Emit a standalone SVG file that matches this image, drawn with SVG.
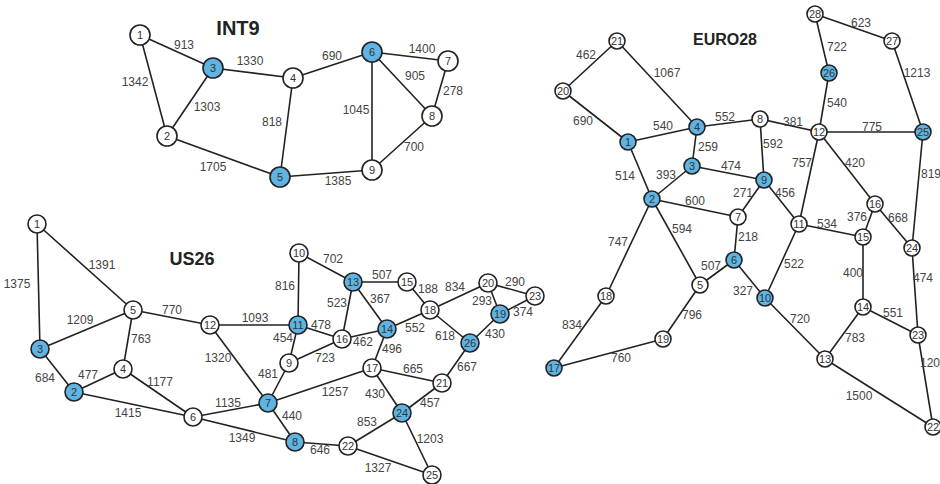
<svg xmlns="http://www.w3.org/2000/svg" width="940" height="484" viewBox="0 0 940 484">
<style>
.e{stroke:#222;stroke-width:1.6;fill:none}
.n circle{stroke:#222;stroke-width:1.6;fill:#fff}
.b circle{fill:#5fb4e3}
.n text{font-family:"Liberation Sans",Arial,sans-serif;font-size:11px;fill:#333;text-anchor:middle;dominant-baseline:central}
.l{font-family:"Liberation Sans",Arial,sans-serif;font-size:12px;fill:#444;text-anchor:middle;dominant-baseline:central}
.t{font-family:"Liberation Sans",Arial,sans-serif;font-weight:bold;fill:#222;text-anchor:middle;dominant-baseline:central}
</style>
<rect width="940" height="484" fill="#fff"/>
<text class="t" x="238" y="28" font-size="20">INT9</text>
<text class="t" x="192" y="259" font-size="18">US26</text>
<text class="t" x="725" y="39" font-size="16">EURO28</text>

<g id="connectors">
<path class="e" d="M140,35L213,68M140,35L167,136M167,136L213,68M213,68L293,78M293,78L280,177M167,136L280,177M293,78L372,52M372,52L448,61M372,52L432,116M448,61L432,116M372,52L372,170M432,116L372,170M280,177L372,170"/>
<path class="e" d="M37,224L40,349M37,224L133,310M40,349L133,310M40,349L74,392M74,392L123,369M123,369L133,310M123,369L193,417M74,392L193,417M133,310L210,325M210,325L268,403M193,417L268,403M193,417L295,442M268,403L295,442M268,403L289,363M289,363L298,325M289,363L342,339M299,253L298,325M299,253L353,282M298,325L342,339M353,282L342,339M353,282L407,282M353,282L387,329M342,339L387,329M387,329L430,310M387,329L372,368M407,282L430,310M430,310L488,283M430,310L470,343M488,283L535,296M488,283L500,314M500,314L535,296M500,314L470,343M470,343L442,383M372,368L442,383M372,368L268,403M372,368L402,413M442,383L402,413M402,413L348,446M402,413L432,475M295,442L348,446M348,446L432,475"/>
<path class="e" d="M210,325L298,325" stroke-width="3"/>
<path class="e" d="M617,41L563,91M617,41L697,127M563,91L628,142M628,142L697,127M628,142L652,199M697,127L760,119M697,127L692,166M692,166L652,199M692,166L764,180M652,199L738,217M652,199L700,285M652,199L606,296M606,296L554,368M554,368L663,339M663,339L700,285M700,285L734,260M734,260L738,217M738,217L764,180M734,260L765,298M764,180L760,119M764,180L799,224M760,119L819,132M819,132L829,73M829,73L815,14M815,14L892,41M892,41L923,132M819,132L923,132M819,132L799,224M819,132L875,204M799,224L863,237M799,224L765,298M875,204L863,237M875,204L912,248M923,132L912,248M863,237L863,307M912,248L918,335M863,307L918,335M765,298L825,359M825,359L863,307M825,359L933,427M918,335L933,427"/>
</g>

<g id="edge-labels">
<text class="l" x="184" y="45">913</text>
<text class="l" x="250" y="61">1330</text>
<text class="l" x="135" y="82">1342</text>
<text class="l" x="207" y="107">1303</text>
<text class="l" x="272" y="122">818</text>
<text class="l" x="213" y="167">1705</text>
<text class="l" x="332" y="56">690</text>
<text class="l" x="422" y="49">1400</text>
<text class="l" x="415" y="76">905</text>
<text class="l" x="453" y="91">278</text>
<text class="l" x="356" y="110">1045</text>
<text class="l" x="414" y="147">700</text>
<text class="l" x="338" y="181">1385</text>

<text class="l" x="102" y="265">1391</text>
<text class="l" x="17" y="284">1375</text>
<text class="l" x="80" y="320">1209</text>
<text class="l" x="141" y="339">763</text>
<text class="l" x="45" y="378">684</text>
<text class="l" x="88" y="375">477</text>
<text class="l" x="160" y="382">1177</text>
<text class="l" x="128" y="413">1415</text>
<text class="l" x="172" y="310">770</text>
<text class="l" x="255" y="318">1093</text>
<text class="l" x="218" y="358">1320</text>
<text class="l" x="228" y="403">1135</text>
<text class="l" x="242" y="438">1349</text>
<text class="l" x="292" y="416">440</text>
<text class="l" x="268" y="374">481</text>
<text class="l" x="283" y="338">454</text>
<text class="l" x="285" y="286">816</text>
<text class="l" x="333" y="259">702</text>
<text class="l" x="382" y="275">507</text>
<text class="l" x="428" y="289">188</text>
<text class="l" x="455" y="287">834</text>
<text class="l" x="515" y="282">290</text>
<text class="l" x="482" y="301">293</text>
<text class="l" x="523" y="312">374</text>
<text class="l" x="337" y="303">523</text>
<text class="l" x="380" y="299">367</text>
<text class="l" x="321" y="325">478</text>
<text class="l" x="415" y="328">552</text>
<text class="l" x="445" y="336">618</text>
<text class="l" x="495" y="334">430</text>
<text class="l" x="363" y="342">462</text>
<text class="l" x="392" y="349">496</text>
<text class="l" x="325" y="358">723</text>
<text class="l" x="413" y="369">665</text>
<text class="l" x="467" y="367">667</text>
<text class="l" x="335" y="392">1257</text>
<text class="l" x="375" y="394">430</text>
<text class="l" x="430" y="403">457</text>
<text class="l" x="367" y="422">853</text>
<text class="l" x="430" y="439">1203</text>
<text class="l" x="320" y="450">646</text>
<text class="l" x="378" y="468">1327</text>

<text class="l" x="586" y="55">462</text>
<text class="l" x="667" y="73">1067</text>
<text class="l" x="583" y="121">690</text>
<text class="l" x="663" y="126">540</text>
<text class="l" x="725" y="117">552</text>
<text class="l" x="708" y="147">259</text>
<text class="l" x="625" y="176">514</text>
<text class="l" x="666" y="175">393</text>
<text class="l" x="731" y="166">474</text>
<text class="l" x="695" y="201">600</text>
<text class="l" x="861" y="23">623</text>
<text class="l" x="837" y="47">722</text>
<text class="l" x="917" y="73">1213</text>
<text class="l" x="837" y="103">540</text>
<text class="l" x="793" y="122">381</text>
<text class="l" x="872" y="127">775</text>
<text class="l" x="773" y="144">592</text>
<text class="l" x="802" y="163">757</text>
<text class="l" x="855" y="163">420</text>
<text class="l" x="931" y="174">819</text>
<text class="l" x="785" y="193">456</text>
<text class="l" x="743" y="193">271</text>
<text class="l" x="857" y="217">376</text>
<text class="l" x="898" y="218">668</text>
<text class="l" x="827" y="224">534</text>
<text class="l" x="748" y="237">218</text>
<text class="l" x="618" y="242">747</text>
<text class="l" x="682" y="229">594</text>
<text class="l" x="794" y="264">522</text>
<text class="l" x="711" y="266">507</text>
<text class="l" x="853" y="273">400</text>
<text class="l" x="923" y="278">474</text>
<text class="l" x="743" y="291">327</text>
<text class="l" x="893" y="313">551</text>
<text class="l" x="692" y="315">796</text>
<text class="l" x="800" y="319">720</text>
<text class="l" x="572" y="325">834</text>
<text class="l" x="855" y="338">783</text>
<text class="l" x="621" y="358">760</text>
<text class="l" x="930" y="363">120</text>
<text class="l" x="859" y="396">1500</text>
</g>

<g id="int9-1" class="n"><circle cx="140" cy="35" r="10"/><text x="140" y="35">1</text></g>
<g id="int9-2" class="n"><circle cx="167" cy="136" r="10"/><text x="167" y="136">2</text></g>
<g id="int9-3" class="n b"><circle cx="213" cy="68" r="10"/><text x="213" y="68">3</text></g>
<g id="int9-4" class="n"><circle cx="293" cy="78" r="10"/><text x="293" y="78">4</text></g>
<g id="int9-5" class="n b"><circle cx="280" cy="177" r="10"/><text x="280" y="177">5</text></g>
<g id="int9-6" class="n b"><circle cx="372" cy="52" r="10"/><text x="372" y="52">6</text></g>
<g id="int9-7" class="n"><circle cx="448" cy="61" r="10"/><text x="448" y="61">7</text></g>
<g id="int9-8" class="n"><circle cx="432" cy="116" r="10"/><text x="432" y="116">8</text></g>
<g id="int9-9" class="n"><circle cx="372" cy="170" r="10"/><text x="372" y="170">9</text></g>

<g id="us26-1" class="n"><circle cx="37" cy="224" r="9"/><text x="37" y="224">1</text></g>
<g id="us26-2" class="n b"><circle cx="74" cy="392" r="9"/><text x="74" y="392">2</text></g>
<g id="us26-3" class="n b"><circle cx="40" cy="349" r="9"/><text x="40" y="349">3</text></g>
<g id="us26-4" class="n"><circle cx="123" cy="369" r="9"/><text x="123" y="369">4</text></g>
<g id="us26-5" class="n"><circle cx="133" cy="310" r="9"/><text x="133" y="310">5</text></g>
<g id="us26-6" class="n"><circle cx="193" cy="417" r="9"/><text x="193" y="417">6</text></g>
<g id="us26-7" class="n b"><circle cx="268" cy="403" r="9"/><text x="268" y="403">7</text></g>
<g id="us26-8" class="n b"><circle cx="295" cy="442" r="9"/><text x="295" y="442">8</text></g>
<g id="us26-9" class="n"><circle cx="289" cy="363" r="9"/><text x="289" y="363">9</text></g>
<g id="us26-10" class="n"><circle cx="299" cy="253" r="9"/><text x="299" y="253">10</text></g>
<g id="us26-11" class="n b"><circle cx="298" cy="325" r="9"/><text x="298" y="325">11</text></g>
<g id="us26-12" class="n"><circle cx="210" cy="325" r="9"/><text x="210" y="325">12</text></g>
<g id="us26-13" class="n b"><circle cx="353" cy="282" r="9"/><text x="353" y="282">13</text></g>
<g id="us26-14" class="n b"><circle cx="387" cy="329" r="9"/><text x="387" y="329">14</text></g>
<g id="us26-15" class="n"><circle cx="407" cy="282" r="9"/><text x="407" y="282">15</text></g>
<g id="us26-16" class="n"><circle cx="342" cy="339" r="9"/><text x="342" y="339">16</text></g>
<g id="us26-17" class="n"><circle cx="372" cy="368" r="9"/><text x="372" y="368">17</text></g>
<g id="us26-18" class="n"><circle cx="430" cy="310" r="9"/><text x="430" y="310">18</text></g>
<g id="us26-19" class="n b"><circle cx="500" cy="314" r="9"/><text x="500" y="314">19</text></g>
<g id="us26-20" class="n"><circle cx="488" cy="283" r="9"/><text x="488" y="283">20</text></g>
<g id="us26-21" class="n"><circle cx="442" cy="383" r="9"/><text x="442" y="383">21</text></g>
<g id="us26-22" class="n"><circle cx="348" cy="446" r="9"/><text x="348" y="446">22</text></g>
<g id="us26-23" class="n"><circle cx="535" cy="296" r="9"/><text x="535" y="296">23</text></g>
<g id="us26-24" class="n b"><circle cx="402" cy="413" r="9"/><text x="402" y="413">24</text></g>
<g id="us26-25" class="n"><circle cx="432" cy="475" r="9"/><text x="432" y="475">25</text></g>
<g id="us26-26" class="n b"><circle cx="470" cy="343" r="9"/><text x="470" y="343">26</text></g>

<g id="euro-1" class="n b"><circle cx="628" cy="142" r="8"/><text x="628" y="142">1</text></g>
<g id="euro-2" class="n b"><circle cx="652" cy="199" r="8"/><text x="652" y="199">2</text></g>
<g id="euro-3" class="n b"><circle cx="692" cy="166" r="8"/><text x="692" y="166">3</text></g>
<g id="euro-4" class="n b"><circle cx="697" cy="127" r="8"/><text x="697" y="127">4</text></g>
<g id="euro-5" class="n"><circle cx="700" cy="285" r="8"/><text x="700" y="285">5</text></g>
<g id="euro-6" class="n b"><circle cx="734" cy="260" r="8"/><text x="734" y="260">6</text></g>
<g id="euro-7" class="n"><circle cx="738" cy="217" r="8"/><text x="738" y="217">7</text></g>
<g id="euro-8" class="n"><circle cx="760" cy="119" r="8"/><text x="760" y="119">8</text></g>
<g id="euro-9" class="n b"><circle cx="764" cy="180" r="8"/><text x="764" y="180">9</text></g>
<g id="euro-10" class="n b"><circle cx="765" cy="298" r="8"/><text x="765" y="298">10</text></g>
<g id="euro-11" class="n"><circle cx="799" cy="224" r="8"/><text x="799" y="224">11</text></g>
<g id="euro-12" class="n"><circle cx="819" cy="132" r="8"/><text x="819" y="132">12</text></g>
<g id="euro-13" class="n"><circle cx="825" cy="359" r="8"/><text x="825" y="359">13</text></g>
<g id="euro-14" class="n"><circle cx="863" cy="307" r="8"/><text x="863" y="307">14</text></g>
<g id="euro-15" class="n"><circle cx="863" cy="237" r="8"/><text x="863" y="237">15</text></g>
<g id="euro-16" class="n"><circle cx="875" cy="204" r="8"/><text x="875" y="204">16</text></g>
<g id="euro-17" class="n b"><circle cx="554" cy="368" r="8"/><text x="554" y="368">17</text></g>
<g id="euro-18" class="n"><circle cx="606" cy="296" r="8"/><text x="606" y="296">18</text></g>
<g id="euro-19" class="n"><circle cx="663" cy="339" r="8"/><text x="663" y="339">19</text></g>
<g id="euro-20" class="n"><circle cx="563" cy="91" r="8"/><text x="563" y="91">20</text></g>
<g id="euro-21" class="n"><circle cx="617" cy="41" r="8"/><text x="617" y="41">21</text></g>
<g id="euro-22" class="n"><circle cx="933" cy="427" r="8"/><text x="933" y="427">22</text></g>
<g id="euro-23" class="n"><circle cx="918" cy="335" r="8"/><text x="918" y="335">23</text></g>
<g id="euro-24" class="n"><circle cx="912" cy="248" r="8"/><text x="912" y="248">24</text></g>
<g id="euro-25" class="n b"><circle cx="923" cy="132" r="8"/><text x="923" y="132">25</text></g>
<g id="euro-26" class="n b"><circle cx="829" cy="73" r="8"/><text x="829" y="73">26</text></g>
<g id="euro-27" class="n"><circle cx="892" cy="41" r="8"/><text x="892" y="41">27</text></g>
<g id="euro-28" class="n"><circle cx="815" cy="14" r="8"/><text x="815" y="14">28</text></g>
</svg>
